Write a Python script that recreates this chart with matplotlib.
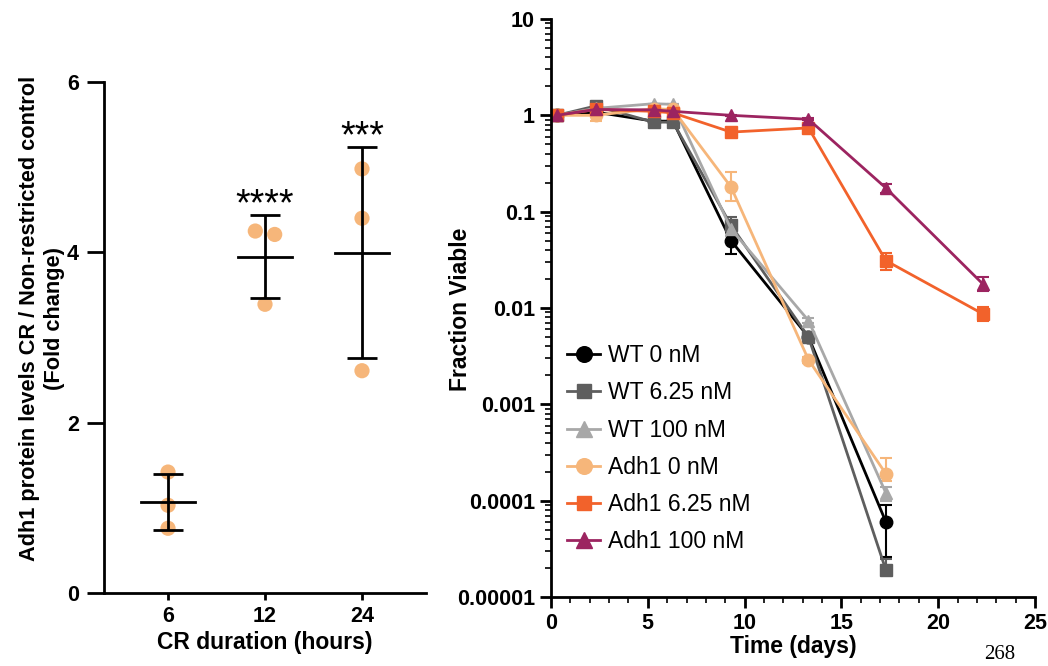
import numpy as np
import matplotlib
matplotlib.use("Agg")
import matplotlib.pyplot as plt
from matplotlib.ticker import FixedLocator, NullFormatter

plt.rcParams['font.family'] = ['Liberation Sans', 'DejaVu Sans']

# Left panel: Adh1 fold change after CR
cr_labels = ['6', '12', '24']
cr_points = [
    [1.42, 1.03, 0.76],
    [4.25, 4.21, 3.39],
    [4.98, 4.40, 2.61],
]
cr_jitter = [
    [0.0, 0.0, 0.0],
    [-0.10, 0.10, 0.0],
    [0.0, 0.0, 0.0],
]
cr_stars = ['', '****', '***']

# Right panel: viability over time
days = [0.3, 2.3, 5.3, 6.3, 9.3, 13.3, 17.3, 22.3]
series = [
    # label, color, marker, values, lower err, upper err
    ('WT 0 nM', '#000000', 'o',
     [1.0, 1.08, 0.87, 0.87, 0.050, 0.0050, 0.00006, None],
     [0, 0.08, 0, 0, 0.014, 0.0006, 0.000034, None],
     [0, 0.08, 0, 0, 0.012, 0.0006, 0.00003, None]),
    ('WT 6.25 nM', '#5e5e5e', 's',
     [1.0, 1.25, 0.85, 0.85, 0.072, 0.0050, 0.000019, None],
     [0, 0.05, 0, 0, 0.012, 0.0004, 0.000002, None],
     [0, 0.05, 0, 0, 0.015, 0.0004, 0.000006, None]),
    ('WT 100 nM', '#a8a8a8', '^',
     [1.0, 1.18, 1.32, 1.30, 0.066, 0.0074, 0.00012, None],
     [0, 0.05, 0, 0, 0.010, 0.0004, 0.00002, None],
     [0, 0.05, 0, 0, 0.012, 0.0004, 0.00002, None]),
    ('Adh1 0 nM', '#f6b67a', 'o',
     [1.0, 1.0, 1.17, 1.15, 0.18, 0.0029, 0.00019, None],
     [0, 0.12, 0, 0, 0.05, 0.0002, 0.00003, None],
     [0, 0.12, 0, 0, 0.08, 0.0002, 0.00009, None]),
    ('Adh1 6.25 nM', '#f2622b', 's',
     [1.0, 1.15, 1.10, 1.06, 0.67, 0.74, 0.031, 0.0087],
     [0, 0.03, 0, 0, 0.03, 0.03, 0.006, 0.0014],
     [0, 0.03, 0, 0, 0.03, 0.03, 0.006, 0.0016]),
    ('Adh1 100 nM', '#9c2460', '^',
     [1.0, 1.15, 1.14, 1.10, 1.0, 0.91, 0.176, 0.0178],
     [0, 0.03, 0, 0, 0.02, 0.02, 0.018, 0.0028],
     [0, 0.03, 0, 0, 0.02, 0.02, 0.018, 0.0032]),
]

fig = plt.figure(figsize=(10.48, 6.66), dpi=100)
W, H = 1048, 666

def px_axes(left, top, right, bottom):
    return fig.add_axes([left / W, 1 - bottom / H, (right - left) / W, (bottom - top) / H])

# ---------- left panel ----------
ax1 = px_axes(104, 82, 426, 593)
for i, pts in enumerate(cr_points):
    pts = np.array(pts)
    m = pts.mean()
    sd = pts.std(ddof=1)
    ax1.scatter(i + np.array(cr_jitter[i]), pts, s=120, color='#f6b67a',
                edgecolors='none', zorder=2)
    ax1.plot([i - 0.28, i + 0.28], [m, m], color='black', lw=2, zorder=3)
    ax1.errorbar(i, m, yerr=sd, fmt='none', ecolor='black', elinewidth=2,
                 capsize=11, capthick=2, zorder=3)
    if cr_stars[i]:
        ax1.annotate(cr_stars[i], (i, m + sd), xytext=(0, -6),
                     textcoords='offset points', ha='center', va='bottom',
                     fontsize=27)

ax1.set_xlim(-0.66, 2.66)
ax1.set_ylim(0, 6)
ax1.set_xticks(range(len(cr_labels)))
ax1.set_xticklabels(cr_labels)
ax1.set_yticks([0, 2, 4, 6])
for side in ['top', 'right']:
    ax1.spines[side].set_visible(False)
for side in ['left', 'bottom']:
    ax1.spines[side].set_linewidth(2)
ax1.tick_params(axis='y', length=12, width=2, labelsize=15.5, pad=6)
ax1.tick_params(axis='x', length=5, width=2, labelsize=15.5, pad=4)
for lab in ax1.get_xticklabels() + ax1.get_yticklabels():
    lab.set_fontweight('bold')
ax1.set_xlabel('CR duration (hours)', fontsize=16.5, fontweight='bold', labelpad=3)
ax1.set_ylabel('Adh1 protein levels CR / Non-restricted control\n(Fold change)',
               fontsize=15.7, fontweight='bold', linespacing=1.3)
ax1.yaxis.set_label_coords(-0.12, 0.538)

# ---------- right panel ----------
ax2 = px_axes(551, 19, 1035, 597)
for label, color, marker, vals, lo, hi in series:
    x = [d for d, v in zip(days, vals) if v is not None]
    y = [v for v in vals if v is not None]
    el = [e for e in lo if e is not None]
    eh = [e for e in hi if e is not None]
    ms = 8 if marker == 's' else 9
    ax2.errorbar(x, y, yerr=[el, eh], color=color, marker=marker, ms=ms,
                 lw=2, elinewidth=1.5, capsize=4, capthick=1.5, label=label)

ax2.set_yscale('log')
ax2.set_ylim(1e-5, 10)
ax2.set_xlim(0, 25)
yt = [1e-5, 1e-4, 1e-3, 1e-2, 1e-1, 1, 10]
ax2.set_yticks(yt)
ax2.set_yticklabels(['0.00001', '0.0001', '0.001', '0.01', '0.1', '1', '10'])
minor_y = [k * 10.0 ** e for e in range(-5, 1) for k in range(2, 10)]
ax2.yaxis.set_minor_locator(FixedLocator(minor_y))
ax2.yaxis.set_minor_formatter(NullFormatter())
ax2.set_xticks([0, 5, 10, 15, 20, 25])
ax2.xaxis.set_minor_locator(FixedLocator([d for d in range(26) if d % 5]))
for side in ['top', 'right']:
    ax2.spines[side].set_visible(False)
for side in ['left', 'bottom']:
    ax2.spines[side].set_linewidth(2)
ax2.tick_params(which='major', length=8, width=2, labelsize=15.5)
ax2.tick_params(which='minor', length=4, width=1.2)
for lab in ax2.get_xticklabels() + ax2.get_yticklabels():
    lab.set_fontweight('bold')
ax2.set_xlabel('Time (days)', fontsize=16.5, fontweight='bold', labelpad=1)
ax2.set_ylabel('Fraction Viable', fontsize=16.5, fontweight='bold')
ax2.yaxis.set_label_coords(-0.163, 0.497)

handles, labels = ax2.get_legend_handles_labels()
handles = [h[0] for h in handles]
ax2.legend(handles, labels, loc='upper left', bbox_to_anchor=(0.0, 0.465),
           frameon=False, fontsize=16.5, handlelength=1.45, labelspacing=0.62,
           handletextpad=0.35, borderaxespad=0.3, markerscale=1.25)

fig.text(1000 / W, 2 / H, '268', ha='center', va='bottom', fontsize=15,
         family='Liberation Serif')

fig.savefig('out.png', dpi=100)
